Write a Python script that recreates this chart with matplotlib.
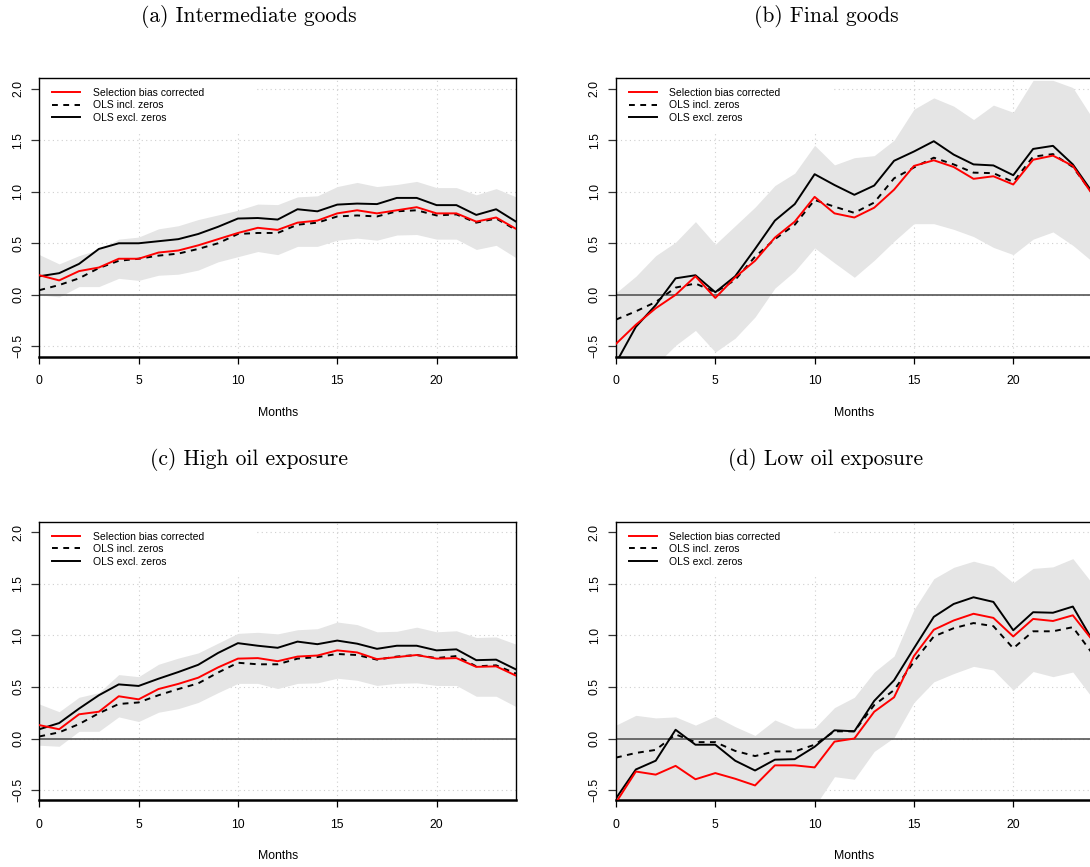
import matplotlib
matplotlib.use("Agg")
import matplotlib.pyplot as plt
from matplotlib.patches import Rectangle

months = list(range(25))

titles = ["(a) Intermediate goods", "(b) Final goods",
          "(c) High oil exposure", "(d) Low oil exposure"]
legend_labels = ["Selection bias corrected", "OLS incl. zeros", "OLS excl. zeros"]
x_ticks = [0, 5, 10, 15, 20]
y_ticks = [-0.5, 0.0, 0.5, 1.0, 1.5, 2.0]
y_ticklabels = ["\u22120.5", "0.0", "0.5", "1.0", "1.5", "2.0"]
x_label = "Months"

# (a) Intermediate goods
a_sel = [0.19, 0.14, 0.23, 0.265, 0.35, 0.35, 0.41, 0.43, 0.48, 0.54, 0.60, 0.65, 0.63,
         0.70, 0.72, 0.79, 0.82, 0.79, 0.82, 0.85, 0.79, 0.79, 0.71, 0.75, 0.64]
a_incl = [0.045, 0.095, 0.16, 0.26, 0.33, 0.35, 0.38, 0.40, 0.445, 0.50, 0.59, 0.60, 0.60,
          0.68, 0.70, 0.76, 0.77, 0.76, 0.81, 0.82, 0.77, 0.78, 0.70, 0.74, 0.63]
a_excl = [0.18, 0.21, 0.30, 0.445, 0.50, 0.50, 0.52, 0.54, 0.59, 0.66, 0.74, 0.745, 0.73,
          0.83, 0.81, 0.875, 0.885, 0.88, 0.94, 0.94, 0.87, 0.87, 0.775, 0.83, 0.71]
a_hi = [0.39, 0.30, 0.38, 0.44, 0.54, 0.56, 0.64, 0.67, 0.73, 0.775, 0.82, 0.88, 0.875,
        0.95, 0.96, 1.05, 1.09, 1.05, 1.07, 1.10, 1.04, 1.04, 0.97, 1.03, 0.95]
a_lo = [0.0, -0.02, 0.08, 0.08, 0.16, 0.14, 0.19, 0.20, 0.24, 0.32, 0.37, 0.42, 0.39,
        0.47, 0.47, 0.53, 0.55, 0.53, 0.58, 0.585, 0.54, 0.54, 0.44, 0.48, 0.36]

# (b) Final goods
b_sel = [-0.475, -0.29, -0.13, 0.0, 0.18, -0.03, 0.17, 0.33, 0.555, 0.71, 0.95, 0.79, 0.75,
         0.845, 1.02, 1.25, 1.305, 1.24, 1.125, 1.15, 1.07, 1.31, 1.35, 1.25, 0.97]
b_incl = [-0.24, -0.16, -0.07, 0.07, 0.11, 0.025, 0.145, 0.37, 0.54, 0.68, 0.92, 0.855, 0.795,
          0.895, 1.13, 1.235, 1.33, 1.265, 1.185, 1.18, 1.095, 1.34, 1.365, 1.24, 0.98]
b_excl = [-0.66, -0.31, -0.10, 0.16, 0.19, 0.025, 0.18, 0.445, 0.72, 0.88, 1.17, 1.065, 0.97,
          1.06, 1.30, 1.39, 1.49, 1.36, 1.265, 1.255, 1.16, 1.415, 1.445, 1.265, 0.99]
b_hi = [0.02, 0.18, 0.38, 0.51, 0.71, 0.49, 0.67, 0.85, 1.06, 1.18, 1.45, 1.26, 1.33,
        1.35, 1.50, 1.80, 1.91, 1.83, 1.70, 1.84, 1.77, 2.08, 2.08, 2.01, 1.71]
b_lo = [-1.0, -0.85, -0.68, -0.49, -0.345, -0.555, -0.42, -0.215, 0.065, 0.23, 0.455, 0.31, 0.17,
        0.335, 0.52, 0.69, 0.69, 0.635, 0.565, 0.46, 0.39, 0.54, 0.61, 0.48, 0.32]

# (c) High oil exposure
c_sel = [0.13, 0.09, 0.235, 0.26, 0.41, 0.38, 0.48, 0.53, 0.59, 0.69, 0.775, 0.78, 0.75,
         0.795, 0.805, 0.855, 0.835, 0.77, 0.79, 0.81, 0.775, 0.78, 0.695, 0.70, 0.61]
c_incl = [0.02, 0.06, 0.14, 0.245, 0.335, 0.35, 0.42, 0.48, 0.535, 0.64, 0.735, 0.72, 0.72,
          0.775, 0.79, 0.82, 0.81, 0.765, 0.795, 0.81, 0.78, 0.80, 0.70, 0.71, 0.63]
c_excl = [0.09, 0.15, 0.29, 0.42, 0.525, 0.51, 0.58, 0.645, 0.715, 0.83, 0.925, 0.90, 0.88,
          0.94, 0.915, 0.95, 0.92, 0.87, 0.90, 0.90, 0.855, 0.865, 0.76, 0.765, 0.67]
c_hi = [0.335, 0.26, 0.40, 0.445, 0.62, 0.60, 0.72, 0.78, 0.83, 0.925, 1.02, 1.03, 1.015,
        1.055, 1.065, 1.13, 1.105, 1.035, 1.04, 1.08, 1.035, 1.045, 0.98, 0.985, 0.915]
c_lo = [-0.065, -0.075, 0.07, 0.07, 0.21, 0.165, 0.255, 0.29, 0.35, 0.445, 0.535, 0.535, 0.485,
        0.535, 0.54, 0.585, 0.565, 0.515, 0.535, 0.54, 0.515, 0.515, 0.41, 0.41, 0.31]

# (d) Low oil exposure
d_sel = [-0.62, -0.32, -0.35, -0.265, -0.395, -0.335, -0.39, -0.455, -0.26, -0.26, -0.28, -0.03, 0.0,
         0.26, 0.40, 0.80, 1.055, 1.145, 1.21, 1.17, 0.99, 1.16, 1.14, 1.195, 0.95]
d_incl = [-0.185, -0.14, -0.11, 0.04, -0.035, -0.035, -0.12, -0.17, -0.125, -0.125, -0.06, 0.07, 0.07,
          0.325, 0.47, 0.745, 0.99, 1.07, 1.12, 1.09, 0.875, 1.04, 1.04, 1.08, 0.82]
d_excl = [-0.58, -0.30, -0.215, 0.085, -0.06, -0.06, -0.215, -0.31, -0.205, -0.20, -0.08, 0.08, 0.07,
          0.365, 0.565, 0.875, 1.18, 1.305, 1.37, 1.325, 1.05, 1.225, 1.22, 1.28, 0.95]
d_hi = [0.13, 0.225, 0.20, 0.21, 0.13, 0.215, 0.115, 0.03, 0.18, 0.10, 0.10, 0.30, 0.40,
        0.645, 0.80, 1.25, 1.55, 1.66, 1.72, 1.67, 1.51, 1.65, 1.665, 1.745, 1.50]
d_lo = [-0.95, -0.85, -0.85, -0.80, -0.90, -0.80, -0.90, -1.0, -0.80, -0.80, -0.66, -0.37, -0.395,
        -0.125, 0.01, 0.35, 0.55, 0.63, 0.70, 0.665, 0.47, 0.65, 0.60, 0.645, 0.39]

panels = [
    (a_sel, a_incl, a_excl, a_hi, a_lo),
    (b_sel, b_incl, b_excl, b_hi, b_lo),
    (c_sel, c_incl, c_excl, c_hi, c_lo),
    (d_sel, d_incl, d_excl, d_hi, d_lo),
]

W, H = 1090, 867
fig = plt.figure(figsize=(W / 100, H / 100), dpi=100)

sans = ["Liberation Sans", "DejaVu Sans"]
ax_w = 476.7
ax_h = 278.4
lefts = [39.3, 616.0, 39.3, 616.0]
tops = [78.3, 78.3, 522.0, 522.0]
title_cx = [249.0, 826.0, 249.0, 826.0]
title_base = [21.7, 21.7, 465.4, 465.4]

for i, (sel, incl, excl, hi, lo) in enumerate(panels):
    l, t = lefts[i], tops[i]
    ax = fig.add_axes([l / W, 1 - (t + ax_h) / H, ax_w / W, ax_h / H])
    ax.set_xlim(0, 24)
    ax.set_ylim(-0.6, 2.1)

    # grid
    for xv in x_ticks[1:]:
        ax.axvline(xv, color="#cfcfcf", lw=0.8, linestyle=(0, (1, 3)), zorder=0)
    for yv in y_ticks:
        ax.axhline(yv, color="#cfcfcf", lw=0.8, linestyle=(0, (1, 3)), zorder=0)

    ax.fill_between(months, lo, hi, color="#e5e5e5", lw=0, zorder=1)
    ax.axhline(0, color="#555555", lw=1.2, zorder=2)

    ax.plot(months, sel, color="#ff0000", lw=1.4, zorder=4, label=legend_labels[0])
    ax.plot(months, incl, color="black", lw=1.4, linestyle=(0, (3.0, 2.8)), zorder=3,
            label=legend_labels[1])
    ax.plot(months, excl, color="black", lw=1.4, zorder=3, label=legend_labels[2])

    # white legend background (covers grid)
    ax.add_patch(Rectangle((0, 0.81), 0.45, 0.19, transform=ax.transAxes,
                           facecolor="white", edgecolor="none", zorder=0.5))
    leg = ax.legend(loc="upper left", bbox_to_anchor=(0.0273, 0.965), borderaxespad=0,
                    borderpad=0, frameon=False, handlelength=2.66, handletextpad=1.2,
                    labelspacing=0.23, prop={"family": sans, "size": 7.5})
    leg.set_zorder(6)

    ax.set_xticks(x_ticks)
    ax.set_xticklabels([str(v) for v in x_ticks], fontfamily=sans, fontsize=8.8)
    ax.set_yticks(y_ticks)
    ax.set_yticklabels(y_ticklabels, fontfamily=sans, fontsize=8.8, rotation=90,
                       va="center")
    ax.tick_params(axis="x", length=4.8, width=0.9, pad=8.5, color="black")
    ax.tick_params(axis="y", length=5.5, width=0.9, pad=5.5, color="#333333")
    ax.set_xlabel(x_label, fontfamily=sans, fontsize=8.8, labelpad=14)

    for s in ["top", "left", "right"]:
        ax.spines[s].set_linewidth(1.0)
    ax.spines["bottom"].set_linewidth(1.8)

    fig.text(title_cx[i] / W, 1 - title_base[i] / H, titles[i], family="cmr10",
             fontsize=15.5, ha="center", va="baseline")

fig.savefig("out.png", dpi=100)
